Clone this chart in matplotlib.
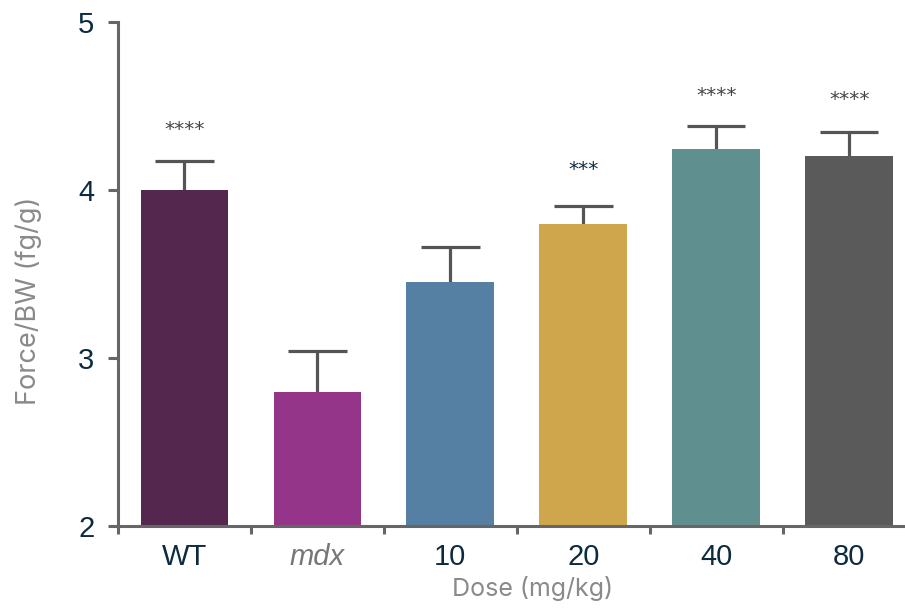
import matplotlib.pyplot as plt
import numpy as np

groups = ['WT', 'mdx', '10', '20', '40', '80']
means = [4.00, 2.80, 3.45, 3.80, 4.245, 4.20]
errs = [0.17, 0.24, 0.21, 0.105, 0.135, 0.145]
stars = ['****', '', '', '***', '****', '****']
star_y = [4.36, None, None, 4.12, 4.56, 4.54]
colors = ['#54274f', '#94358a', '#5580a3', '#cfa64b', '#5f8f8e', '#5a5a5a']

navy = '#0d2b3e'
grey = '#8a8a8a'
axis_col = '#666666'

fig = plt.figure(figsize=(9.05, 6.08), dpi=100)
ax = fig.add_axes([118/905, 82/608, 787/905, 504/608])

x = np.arange(len(groups))
ax.bar(x, [m - 2 for m in means], bottom=2, width=0.66, color=colors, zorder=2)
tops = [m + e for m, e in zip(means, errs)]
ax.vlines(x, means, tops, color='#555555', linewidth=2.3, zorder=1)
ax.hlines(tops, x - 0.22, x + 0.22, color='#555555', linewidth=2.3, zorder=1)

for i, s in enumerate(stars):
    if s:
        c = navy if s == '***' else '#444444'
        ax.text(x[i], star_y[i], s, ha='center', va='center', fontsize=14.5,
                color=c, family='DejaVu Sans')

ax.set_ylim(2, 5)
ax.set_xlim(-0.5, 5.42)
ax.set_yticks([2, 3, 4, 5])
ax.set_yticklabels(['2', '3', '4', '5'], fontsize=21, color=navy, family='Liberation Sans')
ax.tick_params(axis='y', direction='out', length=7, width=2.2, color=axis_col, pad=10)

ax.set_xticks(np.arange(-0.5, 5.5, 1.0))
ax.set_xticklabels([])
ax.tick_params(axis='x', which='major', direction='out', length=6, width=2.2, color=axis_col)
ax.set_xticks(x, minor=True)
ax.set_xticklabels(groups, minor=True, fontsize=21, color=navy, family='Liberation Sans')
ax.tick_params(axis='x', which='minor', length=0, pad=12)
mdx_lbl = ax.get_xticklabels(minor=True)[1]
mdx_lbl.set_style('italic')
mdx_lbl.set_color('#777777')

for side in ['top', 'right']:
    ax.spines[side].set_visible(False)
for side in ['left', 'bottom']:
    ax.spines[side].set_color(axis_col)
    ax.spines[side].set_linewidth(2.2)

ax.set_ylabel('Force/BW (fg/g)', fontsize=19.5, color=grey, family='Inter')
ax.yaxis.set_label_coords(-0.097, 0.446)
ax.set_xlabel('Dose (mg/kg)', fontsize=18, color=grey, family='Inter')
ax.xaxis.set_label_coords(0.527, -0.1)

fig.savefig('out.png', dpi=100)
